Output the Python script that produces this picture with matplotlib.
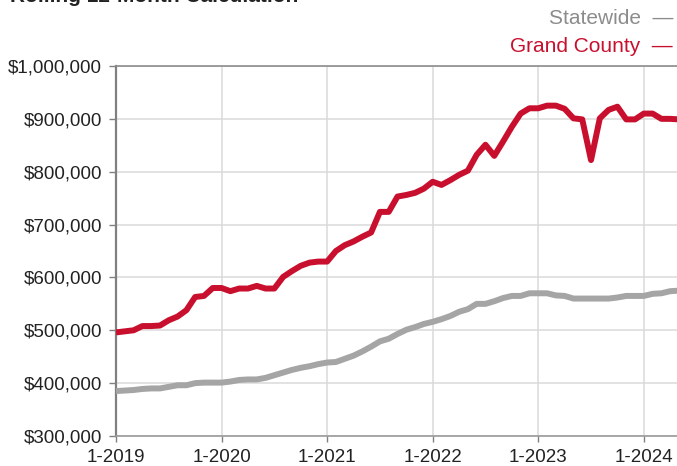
import numpy as np
import matplotlib.pyplot as plt
from matplotlib.ticker import FuncFormatter

plt.rcParams['font.family'] = ['Liberation Sans', 'DejaVu Sans']

# monthly rolling 12-month values, 1-2019 .. 5-2024
grand_county = [496000, 498000, 500000, 508000, 508000, 509000, 519000, 526000, 538000, 563000,
                565000, 580000, 580000, 574000, 579000, 579000, 584000, 579000, 579000, 601000,
                612000, 622000, 628000, 630000, 630000, 650000, 661000, 668000, 677000, 685000,
                724000, 724000, 753000, 756000, 760000, 768000, 781000, 775000, 784000, 794000,
                802000, 832000, 851000, 830000, 857000, 885000, 910000, 920000, 920000, 925000,
                925000, 919000, 901000, 899000, 822000, 901000, 917000, 923000, 899000, 899000,
                910000, 910000, 900000, 900000, 899000]
statewide = [385000, 386000, 387000, 389000, 390000, 390000, 393000, 396000, 396000, 400000,
             401000, 401000, 401000, 403000, 406000, 407000, 407000, 410000, 415000, 420000,
             425000, 429000, 432000, 436000, 439000, 440000, 446000, 452000, 460000, 469000,
             479000, 484000, 493000, 501000, 506000, 512000, 516000, 521000, 527000, 535000,
             540000, 550000, 550000, 555000, 561000, 565000, 565000, 570000, 570000, 570000,
             566000, 565000, 560000, 560000, 560000, 560000, 560000, 562000, 565000, 565000,
             565000, 569000, 570000, 574000, 575000]
tick_labels = ['1-2019', '1-2020', '1-2021', '1-2022', '1-2023', '1-2024']

red = '#C8102E'
gray = '#A5A5A5'

fig = plt.figure(figsize=(6.77, 4.66), dpi=100)
ax = fig.add_axes([116 / 677, 30 / 466, 1 - 116 / 677 + 2 / 677, 370 / 466])

months = np.arange(len(grand_county))
ax.plot(months, statewide, color=gray, lw=4.3, solid_capstyle='butt', zorder=3)
ax.plot(months, grand_county, color=red, lw=4.3, solid_capstyle='butt', zorder=4)

ax.set_xlim(0, 64)
ax.set_ylim(300000, 1000000)
ax.set_yticks(np.arange(300000, 1000001, 100000))
ax.yaxis.set_major_formatter(FuncFormatter(lambda v, p: '${:,.0f}'.format(v)))
ax.set_xticks(np.arange(0, 61, 12))
ax.set_xticklabels(tick_labels)

ax.grid(True, color='#DADADA', lw=1.1, zorder=0)
ax.set_axisbelow(True)
ax.spines['right'].set_visible(False)
ax.spines['left'].set_color('#808080')
ax.spines['left'].set_linewidth(1.6)
ax.spines['bottom'].set_color('#9A9A9A')
ax.spines['bottom'].set_linewidth(1.2)
ax.spines['top'].set_color('#8C8C8C')
ax.spines['top'].set_linewidth(1.2)
ax.tick_params(axis='y', length=5, width=1, color='#808080', pad=5, labelsize=13.5, labelcolor='#222222')
ax.tick_params(axis='x', length=4, width=1, color='#808080', pad=5, labelsize=13.5, labelcolor='#222222')

# title is cropped at the top edge, as in the original
fig.text(10 / 677, 1.008, 'Rolling 12-Month Calculation', fontsize=15, fontweight='bold',
         color='#222222', ha='left', va='center')
fig.text(673 / 677, 1 - 19 / 466, 'Statewide  \u2014', fontsize=15, color='#8C8C8C',
         ha='right', va='center')
fig.text(673 / 677, 1 - 47 / 466, 'Grand County  \u2014', fontsize=15, color=red,
         ha='right', va='center')

fig.savefig('out.png', dpi=100)
